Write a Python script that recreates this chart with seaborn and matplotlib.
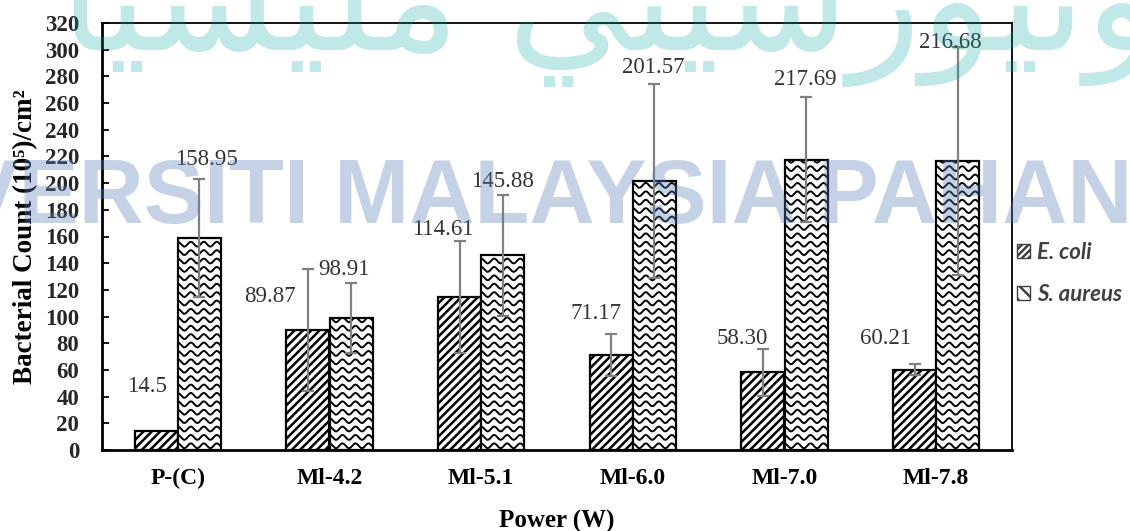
import numpy as np
import pandas as pd
import matplotlib
matplotlib.use("Agg")
import matplotlib.pyplot as plt
import seaborn as sns
from matplotlib.patches import Patch

# ---------------- data ----------------
categories = ["P-(C)", "Ml-4.2", "Ml-5.1", "Ml-6.0", "Ml-7.0", "Ml-7.8"]
series_names = ["E. coli", "S. aureus"]
ecoli = [14.5, 89.87, 114.61, 71.17, 58.30, 60.21]
ecoli_err = [0.0, 46.0, 42.0, 16.0, 17.5, 4.0]
saureus = [158.95, 98.91, 145.88, 201.57, 217.69, 216.68]
saureus_err = [44.0, 26.0, 45.5, 72.5, 47.0, 85.5]
ecoli_labels = ["14.5", "89.87", "114.61", "71.17", "58.30", "60.21"]
saureus_labels = ["158.95", "98.91", "145.88", "201.57", "217.69", "216.68"]
y_ticks = list(range(0, 321, 20))
y_label = "Bacterial Count (10⁵)/cm²"
x_label = "Power (W)"
watermark_latin = "UNIVERSITI MALAYSIA PAHANG"

# label placement tweaks (layout only): x shift in pixels, y shift in data units
ecoli_dx_px = [-9, -38, -17, -15, -21, -29]
ecoli_dy = [33, -21, 8.5, 15, 7.5, 19]
saureus_dx_px = [7, -7.5, 0, -1, -1, -7]
saureus_dy = [14.5, 10.3, 10, 12.5, 13.3, 3.3]

# ---------------- style ----------------
sns.set_theme(style="white")
plt.rcParams["font.family"] = ["Liberation Serif", "DejaVu Serif"]
plt.rcParams["hatch.linewidth"] = 1.8
plt.rcParams["axes.edgecolor"] = "black"

W, H = 1130, 531
fig = plt.figure(figsize=(W / 100, H / 100), dpi=100)
ax_l, ax_r, ax_t, ax_b = 102, 1012, 23, 450
ax = fig.add_axes([ax_l / W, 1 - ax_b / H, (ax_r - ax_l) / W, (ax_b - ax_t) / H])

df = pd.DataFrame({
    "Power": categories * 2,
    "Organism": [series_names[0]] * len(categories) + [series_names[1]] * len(categories),
    "Count": ecoli + saureus,
})

sns.barplot(data=df, x="Power", y="Count", hue="Organism", order=categories,
            hue_order=series_names, palette=["white", "white"], saturation=1,
            width=0.57, errorbar=None, edgecolor="black", linewidth=1.6,
            legend=False, ax=ax)

ax.set_xlim(-0.5, len(categories) - 0.5)
ax.set_ylim(0, 320)
ax.set_yticks(y_ticks)

px_per_x = (ax_r - ax_l) / len(categories)
px_per_y = (ax_b - ax_t) / 320.0

cont_e, cont_s = ax.containers[0], ax.containers[1]
for bar in cont_e:
    bar.set_hatch("////")
    bar.set_edgecolor("black")

# wavy texture for S. aureus bars
period_px, row_px, amp_px = 13.0, 8.4, 2.4
for bar in cont_s:
    x0, w, h = bar.get_x(), bar.get_width(), bar.get_height()
    xs = np.linspace(x0, x0 + w, 160)
    phase = (xs - x0) * px_per_x / period_px * 2 * np.pi
    yr = row_px / px_per_y / 2
    while yr < h + row_px / px_per_y:
        ys = yr + (amp_px / px_per_y) * np.cos(phase)
        ln, = ax.plot(xs, ys, color="black", lw=1.4, zorder=2.5, solid_capstyle="butt")
        ln.set_clip_path(bar)
        yr += row_px / px_per_y

# error bars
for cont, vals, errs in [(cont_e, ecoli, ecoli_err), (cont_s, saureus, saureus_err)]:
    cx = np.array([b.get_x() + b.get_width() / 2 for b in cont])
    v = np.array(vals)
    e = np.array(errs)
    m = e > 0
    ax.errorbar(cx[m], v[m], yerr=e[m], fmt="none", ecolor="#808080",
                elinewidth=1.6, capsize=4.5, capthick=1.6, zorder=4)

# value labels
for cont, vals, errs, labs, dxs, dys in [
        (cont_e, ecoli, ecoli_err, ecoli_labels, ecoli_dx_px, ecoli_dy),
        (cont_s, saureus, saureus_err, saureus_labels, saureus_dx_px, saureus_dy)]:
    for b, v, e, lab, dx, dy in zip(cont, vals, errs, labs, dxs, dys):
        cx = b.get_x() + b.get_width() / 2
        ax.text(cx + dx / px_per_x, v + e + dy, lab, ha="center", va="center",
                fontsize=16.5, color="#333333", zorder=6)

# axes styling
for s in ["left", "bottom"]:
    ax.spines[s].set_linewidth(2.0)
for s in ["top", "right"]:
    ax.spines[s].set_linewidth(1.3)
for s in ax.spines.values():
    s.set_color("black")
ax.tick_params(axis="y", direction="in", length=5, width=1.3, left=True,
               labelsize=16.5, pad=16.5, colors="black", labelcolor="#262626")
ax.tick_params(axis="x", bottom=False, labelsize=17, pad=7, labelcolor="black")
for t in ax.get_yticklabels() + ax.get_xticklabels():
    t.set_fontweight("bold")

ax.set_ylabel(y_label, fontsize=19.5, fontweight="bold", color="black")
ax.yaxis.set_label_coords((38 - ax_l) / (ax_r - ax_l), 0.5)
ax.set_xlabel(x_label, fontsize=18, fontweight="bold", color="black")
ax.xaxis.set_label_coords(0.5, -(510 - ax_b) / (ax_b - ax_t))

# legend
handles = [Patch(facecolor="white", edgecolor="#404040", hatch="/////", lw=1.0),
           Patch(facecolor="white", edgecolor="#404040", hatch="x.", lw=1.0)]
fig.legend(handles, series_names, loc="center left",
           bbox_to_anchor=(1017 / W, 1 - 273.5 / H), frameon=False,
           prop={"family": "Lato", "style": "italic", "weight": "bold", "size": 16},
           labelcolor="#404040", handlelength=0.6, handleheight=0.6,
           handletextpad=0.3, labelspacing=0.95, borderpad=0, borderaxespad=0)

# watermarks
fig.text(503 / W, 1 - 223 / H, watermark_latin, ha="center", va="baseline",
         fontsize=65, fontweight="bold", family="Liberation Sans",
         color="#5b7fb8", alpha=0.35, zorder=20)

# Jawi watermark, pre-shaped presentation forms in visual order
forms_word1 = ["\uFEF3", "\uFEEE", "\uFEE7", "\uFEF4", "\uFEEE", "\uFEAD",
               "\uFEB3", "\uFEF4", "\uFE98", "\uFEF2"]
forms_word2 = ["\uFEE3", "\uFEE0", "\uFEF4", "\uFEB4", "\uFEF4", "\uFE8E"]
forms_word3 = ["\uFB6E", "\uFEEC", "\u06A0"]
logical = "".join(forms_word1) + " " + "".join(forms_word2) + " " + "".join(forms_word3)
visual = logical[::-1]
fig.text(451 / W, 1 - 50 / H, visual, ha="center", va="baseline",
         fontsize=108, family=["DejaVu Sans"], color="#00a69e", alpha=0.25, zorder=20)

fig.savefig("out.png", dpi=100)
